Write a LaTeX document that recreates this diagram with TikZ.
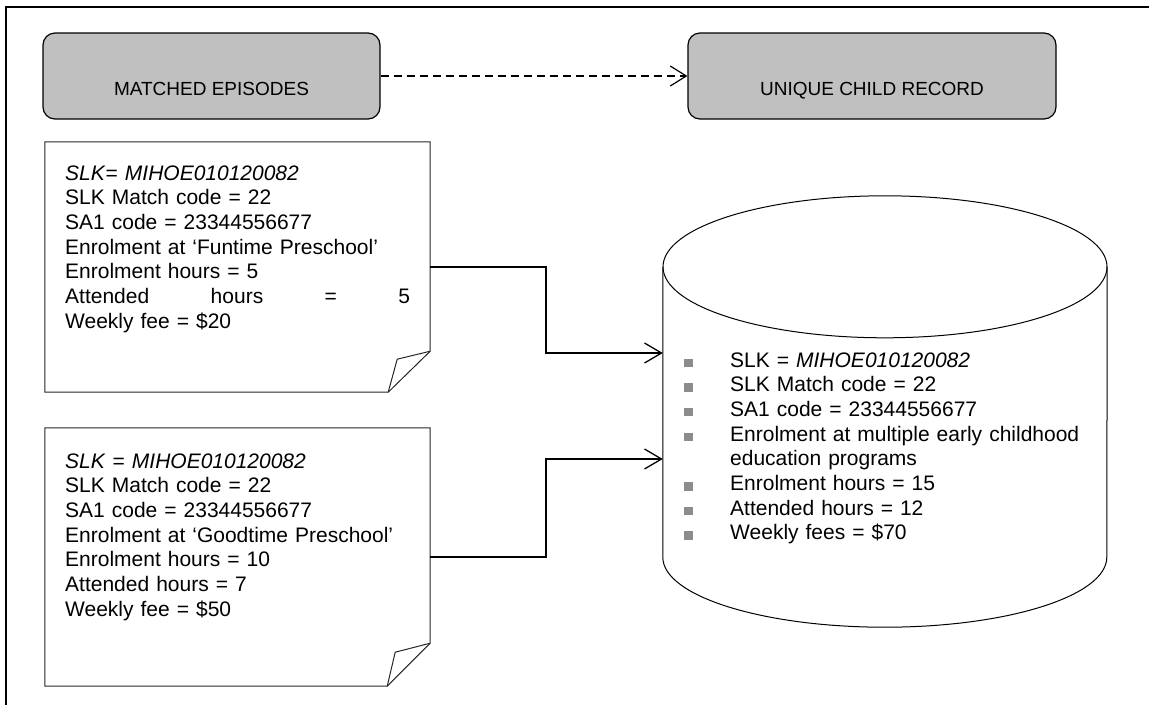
\documentclass[tikz,border=0pt]{standalone}
\usepackage{fontspec}
\setmainfont{Liberation Sans}
\usetikzlibrary{arrows.meta}
\definecolor{boxgray}{HTML}{C0C0C0}
\definecolor{bulgray}{HTML}{8C8C8C}
\newcommand\bul{\leavevmode\llap{\textcolor{bulgray}{\rule{8.5pt}{8.5pt}}\hspace{37.5pt}}}
\begin{document}
\begin{tikzpicture}[x=1pt,y=-1pt,
  hdr/.style={draw, line width=1.2pt, fill=boxgray, rounded corners=12pt,
    minimum height=86pt, inner sep=0pt, text height=38pt, text depth=0pt,
    font=\fontsize{19}{23}\selectfont},
  docbox/.style={minimum width=385pt, inner sep=0pt},
  docline/.style={draw=black!85, line width=1pt, line join=miter},
  doctext/.style={anchor=base west, inner sep=0pt, text width=360pt, align=left,
    font=\fontsize{21}{24.7}\selectfont},
  conn/.style={line width=1.3pt, -{Straight Barb[length=17pt,width=20pt,line width=1.3pt]}},
  dasharrow/.style={line width=1.2pt, dash pattern=on 8pt off 5pt,
    -{Straight Barb[length=16pt,width=20pt,line width=1.2pt]}},
  cylline/.style={line width=1pt}
]
\useasboundingbox (0,0) rectangle (1149,705);
% frame
\draw[line width=1.3pt] (6,705) -- (6,7) -- (1149,7);

% headers
\node[hdr, minimum width=337pt] (hm) at (211.5,76) {MATCHED EPISODES};
\node[hdr, minimum width=368pt] (hu) at (872,76) {UNIQUE CHILD RECORD};
\draw[dasharrow] (hm.east) -- (hu.west);

% document 1
\node[docbox, minimum height=250pt] (doc1) at (237.5,267) {};
\draw[docline] (doc1.north west) -- (doc1.north east) -- ([yshift=41pt]doc1.south east)
  -- ([xshift=-42pt]doc1.south east) -- (doc1.south west) -- cycle;
\draw[docline] ([yshift=41pt]doc1.south east) -- ([xshift=-33pt,yshift=33pt]doc1.south east)
  -- ([xshift=-42pt]doc1.south east);
\node[doctext] (t1) at (65,180) {\textit{SLK}= \textit{MIHOE010120082}\\
SLK Match code = 22\\
SA1 code = 23344556677\\
Enrolment at ‘Funtime Preschool’\\
Enrolment hours = 5\\
\makebox[345pt][l]{Attended\hfill hours\hfill =\hfill 5}\\
Weekly fee = \$20};

% document 2
\node[docbox, minimum height=258pt] (doc2) at (237.5,557) {};
\draw[docline] (doc2.north west) -- (doc2.north east) -- ([yshift=43pt]doc2.south east)
  -- ([xshift=-43pt]doc2.south east) -- (doc2.south west) -- cycle;
\draw[docline] ([yshift=43pt]doc2.south east) -- ([xshift=-35pt,yshift=34pt]doc2.south east)
  -- ([xshift=-43pt]doc2.south east);
\node[doctext] (t2) at (65,468) {\textit{SLK} = \textit{MIHOE010120082}\\
SLK Match code = 22\\
SA1 code = 23344556677\\
Enrolment at ‘Goodtime Preschool’\\
Enrolment hours = 10\\
Attended hours = 7\\
Weekly fee = \$50};

% cylinder
\node[minimum width=444pt, minimum height=290pt, inner sep=0pt] (cyl) at (885,412) {};
\draw[cylline] (cyl.north west) -- (cyl.south west)
  arc[start angle=180, end angle=360, x radius=222pt, y radius=70pt] -- (cyl.north east);
\draw[cylline] (cyl.north) ellipse [x radius=222pt, y radius=71pt];
\node[doctext] (t3) at (730,367) {\bul SLK = \textit{MIHOE010120082}\\
\bul SLK Match code = 22\\
\bul SA1 code = 23344556677\\
\bul Enrolment at multiple early childhood\\
education programs\\
\bul Enrolment hours = 15\\
\bul Attended hours = 12\\
\bul Weekly fees = \$70};

% connectors
\coordinate (in1) at (cyl.west |- 0,353);
\coordinate (in2) at (cyl.west |- 0,459);
\coordinate (b1) at (546,310);
\coordinate (b2) at (546,500);
\draw[conn] (doc1.east) -| (b1) |- (in1);
\draw[conn] (doc2.east) -| (b2) |- (in2);
\end{tikzpicture}
\end{document}
